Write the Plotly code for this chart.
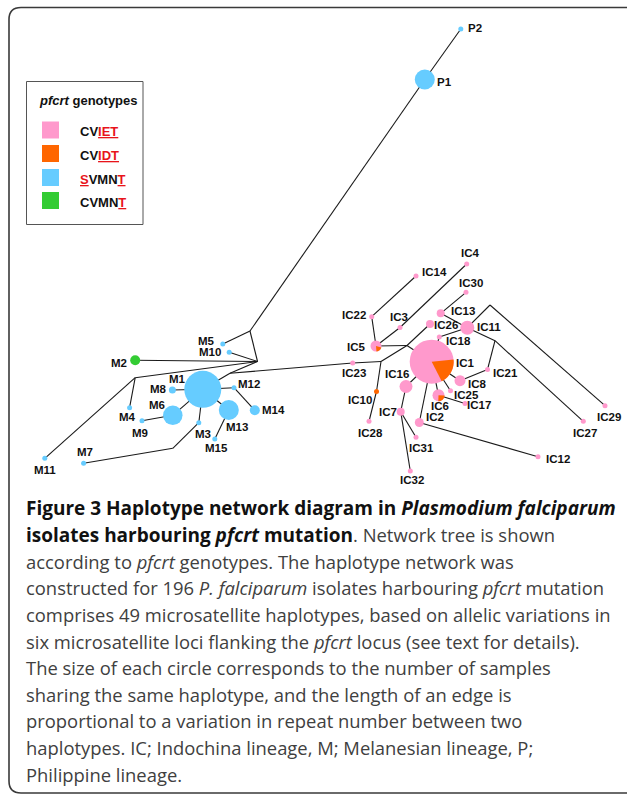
import math
import plotly.graph_objects as go

# ---------------- data ----------------
node_names = ["P2", "P1", "M1", "M2", "M3", "M4", "M5", "M6", "M7", "M8", "M9", "M10",
              "M11", "M12", "M13", "M14", "M15",
              "IC1", "IC2", "IC3", "IC4", "IC5", "IC6", "IC7", "IC8", "IC10", "IC11",
              "IC12", "IC13", "IC14", "IC16", "IC17", "IC18", "IC21", "IC22", "IC23",
              "IC25", "IC26", "IC27", "IC28", "IC29", "IC30", "IC31", "IC32"]
node_x = [460.8, 424.8, 202.8, 135.2, 198.8, 129.6, 222.8, 172.8, 83.6, 172.4, 142.0, 229.2,
          44.8, 234.0, 228.8, 254.8, 214.8,
          431.7, 419.3, 400.0, 466.7, 376.0, 438.5, 400.7, 460.0, 376.5, 467.3,
          538.0, 440.7, 416.0, 406.0, 465.0, 439.3, 487.5, 371.7, 352.7,
          450.5, 430.0, 583.3, 369.0, 605.0, 466.0, 416.0, 410.3]
node_y = [29.0, 79.5, 389.3, 360.3, 422.7, 407.7, 344.0, 415.3, 463.3, 390.0, 420.7, 352.3,
          458.3, 387.7, 410.0, 410.3, 439.0,
          361.7, 422.5, 327.5, 264.0, 346.0, 395.3, 411.7, 380.7, 391.5, 327.7,
          456.7, 313.3, 276.0, 386.5, 403.5, 337.0, 369.5, 316.7, 363.0,
          390.7, 324.0, 421.3, 421.3, 405.7, 292.3, 437.3, 471.0]
# circle diameter (proportional to number of samples)
node_size = [5, 20, 37, 10, 5, 5, 5, 19.5, 5, 7, 5, 5,
             5, 5, 20, 10, 5,
             44, 9, 5, 5, 11, 12, 8, 11, 5, 14,
             5, 8, 5, 13, 5, 5, 5, 5, 5,
             5, 8, 5, 5, 5, 5, 5, 5]
node_geno = ["SVMNT", "SVMNT", "SVMNT", "CVMNT", "SVMNT", "SVMNT", "SVMNT", "SVMNT", "SVMNT",
             "SVMNT", "SVMNT", "SVMNT", "SVMNT", "SVMNT", "SVMNT", "SVMNT", "SVMNT",
             "CVIET", "CVIET", "CVIET", "CVIET", "CVIET", "CVIET", "CVIET", "CVIET", "CVIDT",
             "CVIET", "CVIET", "CVIET", "CVIET", "CVIET", "CVIET", "CVIET", "CVIET", "CVIET",
             "CVIET", "CVIET", "CVIET", "CVIET", "CVIET", "CVIET", "CVIET", "CVIET", "CVIET"]
# mixed haplotypes: share with CVIDT (angular span in degrees)
mixed_names = ["IC1", "IC5", "IC6"]
mixed_start = [-63, -85, -92]
mixed_end = [6, -15, -2]

# median / intermediate vertices of the network
junction_names = ["JP", "JH", "JM1", "JL", "J7", "JA", "JB", "JC", "JD"]
junction_x = [250.0, 257.5, 230.0, 135.2, 172.8, 381.0, 407.0, 490.0, 495.0]
junction_y = [331.0, 361.5, 373.3, 377.7, 448.3, 361.5, 345.5, 305.0, 340.7]

edges = [("P2", "P1"), ("P1", "JP"), ("JP", "M5"), ("JP", "JH"), ("M10", "JH"), ("M2", "JH"),
         ("JL", "JH"), ("M1", "JM1"), ("JM1", "JH"), ("JL", "M11"), ("JL", "M4"),
         ("M1", "M8"), ("M1", "M12"), ("M12", "M14"), ("M1", "M13"), ("M13", "M15"),
         ("M1", "M6"), ("M6", "M9"), ("M1", "M3"), ("M3", "J7"), ("J7", "M7"),
         ("JM1", "IC23"), ("IC23", "JA"), ("JA", "IC10"), ("IC10", "IC28"), ("JA", "JB"),
         ("JB", "IC26"), ("JB", "IC5"), ("JB", "IC1"), ("IC5", "IC22"), ("IC22", "IC14"),
         ("IC5", "IC3"), ("IC3", "IC4"), ("IC1", "IC18"), ("IC18", "IC11"), ("IC11", "IC13"),
         ("IC13", "IC30"), ("IC11", "JC"), ("JC", "IC29"), ("IC11", "JD"), ("JD", "IC27"),
         ("JD", "IC21"), ("IC21", "IC8"), ("IC8", "IC1"), ("IC1", "IC25"), ("IC1", "IC6"),
         ("IC6", "IC17"), ("IC1", "IC16"), ("IC16", "IC7"), ("IC7", "IC31"), ("IC7", "IC32"),
         ("IC1", "IC2"), ("IC2", "IC12")]

legend_genotypes = ["CVIET", "CVIDT", "SVMNT", "CVMNT"]
legend_labels = ["CV<span style='color:#e8141b'><u>IET</u></span>",
                 "CV<span style='color:#e8141b'><u>IDT</u></span>",
                 "<span style='color:#e8141b'><u>S</u></span>VMN<span style='color:#e8141b'><u>T</u></span>",
                 "CVMN<span style='color:#e8141b'><u>T</u></span>"]

caption_lines = [
    "<b>Figure 3 Haplotype network diagram in <i>Plasmodium falciparum</i></b>",
    "<b>isolates harbouring <i>pfcrt</i> mutation</b>. Network tree is shown",
    "according to <i>pfcrt</i> genotypes. The haplotype network was",
    "constructed for 196 <i>P. falciparum</i> isolates harbouring <i>pfcrt</i> mutation",
    "comprises 49 microsatellite haplotypes, based on allelic variations in",
    "six microsatellite loci flanking the <i>pfcrt</i> locus (see text for details).",
    "The size of each circle corresponds to the number of samples",
    "sharing the same haplotype, and the length of an edge is",
    "proportional to a variation in repeat number between two",
    "haplotypes. IC; Indochina lineage, M; Melanesian lineage, P;",
    "Philippine lineage.",
]

# ---------------- styles ----------------
geno_color = {"CVIET": "#ff99cc", "CVIDT": "#ff6600", "SVMNT": "#66ccff", "CVMNT": "#33cc33"}
label_offset = {
    "P2": (14, -1), "P1": (20, 2), "M5": (-16, -3), "M10": (-19, 0), "M2": (-16, 3),
    "M1": (-25, -10), "M8": (-14, -1), "M12": (15, -4), "M6": (-16, -10), "M14": (19, 0),
    "M4": (-2, 9), "M13": (8, 17), "M9": (-2, 12), "M3": (4, 11), "M15": (2, 9),
    "M7": (1, -11), "M11": (0, 12),
    "IC4": (4, -11), "IC14": (18, -4), "IC30": (5, -9), "IC22": (-18, -2), "IC3": (-1, -11),
    "IC13": (22, -2), "IC26": (16, 1), "IC11": (22, -1), "IC18": (19, 4), "IC5": (-20, 1),
    "IC1": (34, 1), "IC23": (1, 10), "IC16": (-9, -13), "IC21": (18, 3.5), "IC8": (17, 3),
    "IC25": (15.5, 4), "IC10": (-17, 8.5), "IC6": (1.5, 11), "IC17": (14, 1.5),
    "IC7": (-13, 0), "IC2": (16, -6), "IC29": (4, 11), "IC27": (2, 12), "IC28": (1, 12),
    "IC31": (5, 11), "IC12": (20, 2), "IC32": (2, 9),
}
W, H = 627, 795

pos = {n: (x, y) for n, x, y in zip(node_names, node_x, node_y)}
pos.update({n: (x, y) for n, x, y in zip(junction_names, junction_x, junction_y)})
size_of = dict(zip(node_names, node_size))

fig = go.Figure()

# edges
ex, ey = [], []
for a, b in edges:
    ex += [pos[a][0], pos[b][0], None]
    ey += [pos[a][1], pos[b][1], None]
fig.add_trace(go.Scatter(x=ex, y=ey, mode="lines", line=dict(color="#1a1a1a", width=1.1),
                         hoverinfo="skip", showlegend=False))

# nodes
for g in legend_genotypes:
    idx = [i for i, gg in enumerate(node_geno) if gg == g]
    if not idx:
        continue
    fig.add_trace(go.Scatter(
        x=[node_x[i] for i in idx], y=[node_y[i] for i in idx], mode="markers",
        marker=dict(size=[node_size[i] for i in idx], color=geno_color[g], line=dict(width=0),
                    opacity=1),
        text=[node_names[i] for i in idx], hoverinfo="text", showlegend=False))

shapes = []
# pie wedges for mixed haplotypes
for n, a0, a1 in zip(mixed_names, mixed_start, mixed_end):
    cx, cy = pos[n]
    r = size_of[n] / 2.0
    pts = [(cx, cy)]
    steps = 24
    for k in range(steps + 1):
        a = math.radians(a0 + (a1 - a0) * k / steps)
        pts.append((cx + r * math.cos(a), cy - r * math.sin(a)))
    path = "M " + " L ".join(f"{px:.2f},{py:.2f}" for px, py in pts) + " Z"
    shapes.append(dict(type="path", path=path, xref="x", yref="y", layer="above",
                       fillcolor=geno_color["CVIDT"], line=dict(width=0)))

# outer frame (rounded, right/bottom edges run off the page)
shapes.append(dict(type="path", xref="x", yref="y", layer="below",
                   path="M 660,7.5 L 21,7.5 Q 9,7.5 9,19.5 L 9,781 Q 9,793 21,793 L 660,793",
                   line=dict(color="#3a3a3a", width=1.6)))
# legend box
shapes.append(dict(type="rect", xref="x", yref="y", x0=26.5, y0=81.5, x1=143, y1=224.5,
                   line=dict(color="#555555", width=1), fillcolor="rgba(0,0,0,0)"))
leg_y = [130, 153.5, 177.5, 200.5]
for g, yy in zip(legend_genotypes, leg_y):
    shapes.append(dict(type="rect", xref="x", yref="y", x0=42, x1=59, y0=yy - 8.5, y1=yy + 8.5,
                       fillcolor=geno_color[g], line=dict(width=0)))

annotations = []
for n in node_names:
    dx, dy = label_offset[n]
    annotations.append(dict(x=pos[n][0] + dx, y=pos[n][1] + dy, text=f"<b>{n}</b>",
                            showarrow=False, xanchor="center", yanchor="middle",
                            font=dict(family="Liberation Sans", size=11.5, color="#111111")))
annotations.append(dict(x=36.5, y=100, text="<b><i>pfcrt</i> genotypes</b>", showarrow=False,
                        xanchor="left", yanchor="middle",
                        font=dict(family="Liberation Sans", size=13, color="#111111")))
for lab, yy in zip(legend_labels, leg_y):
    annotations.append(dict(x=77.5, y=yy + 1.5, text=f"<b>{lab}</b>", showarrow=False,
                            xanchor="left", yanchor="middle",
                            font=dict(family="Liberation Sans", size=13, color="#111111")))

cap_y0, cap_dy = 508, 26.6
for i, line in enumerate(caption_lines):
    txt = line.replace("<b>", "<span style='font-size:19px;color:#111111'><b>").replace("</b>", "</b></span>")
    annotations.append(dict(x=23.5, y=cap_y0 + i * cap_dy, text=txt, showarrow=False,
                            xanchor="left", yanchor="middle",
                            font=dict(family="Open Sans", size=18.4, color="#404040")))

fig.update_layout(
    width=W, height=H, margin=dict(l=0, r=0, t=0, b=0),
    paper_bgcolor="white", plot_bgcolor="white",
    xaxis=dict(range=[0, W], visible=False, fixedrange=True),
    yaxis=dict(range=[H, 0], visible=False, fixedrange=True),
    shapes=shapes, annotations=annotations, showlegend=False,
)
fig.write_html("out.html", config={"displayModeBar": False},
               post_script="document.body.style.margin='0';document.body.style.overflow='hidden';")
